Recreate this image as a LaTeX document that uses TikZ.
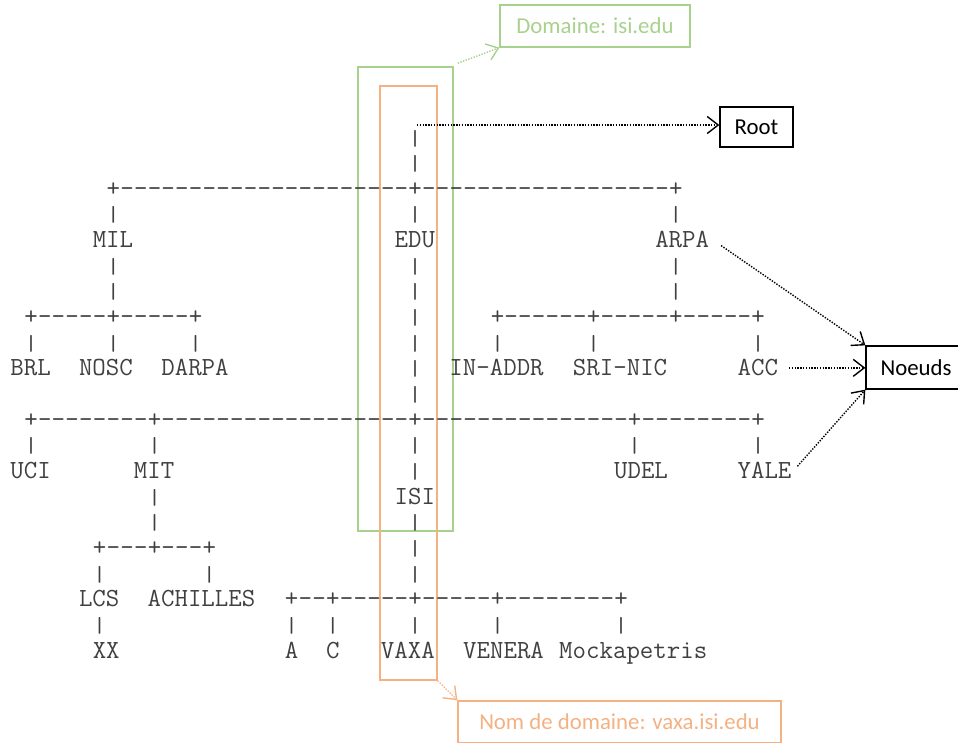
\documentclass[tikz,border=0pt]{standalone}
\usepackage{graphicx}
\usepackage{fontspec}
\setsansfont{Carlito}
\usetikzlibrary{arrows.meta}

\definecolor{asciigray}{RGB}{64,64,64}
\definecolor{isigreen}{RGB}{169,209,142}
\definecolor{vaxaorange}{RGB}{244,177,131}

\tikzset{
  ch/.style   = {font=\fontsize{26.13}{26}\ttfamily, text=asciigray,
                 inner sep=0pt, outer sep=0pt, anchor=base},
  word/.style = {ch, anchor=base west},
  zone/.style = {draw=#1, line width=1.5pt, inner sep=0pt},
  tag/.style  = {draw, line width=1.3pt, inner sep=0pt,
                 font=\fontsize{22.8}{24}\sffamily},
  ptr/.style  = {line width=1.4pt, dash pattern=on 1.4pt off 1.4pt,
                 -{Straight Barb[length=11pt,width=17pt,line width=1.4pt]}}
}

% one row of +----+----+ : row, first plus, next pluses
\newcommand\treeline[3]{%
  \node[ch] (p#1-#2) at (#2,#1) {+};
  \foreach \b [remember=\b as \a (initially #2)] in {#3} {
    \node[ch] (p#1-\b) at (\b,#1) {+};
    \pgfmathtruncatemacro\s{\a+1}
    \pgfmathtruncatemacro\e{\b-1}
    \foreach \c in {\s,...,\e} \node[ch] (d#1-\c) at (\c,#1) {-};
  }}

\begin{document}
\begin{tikzpicture}[x=1pt,y=-1pt]
	\useasboundingbox (0,0) rectangle (958,742);

	% Zones
	\node[zone=isigreen, minimum width=95pt, minimum height=464pt] (zoneisi) at (405.5,299) {};
	\node[zone=vaxaorange, minimum width=57pt, minimum height=594pt] (zonevaxa) at (408.5,383) {};

	% ASCII tree (columns, rows)
	\begin{scope}[shift={(17.3,145)}, x=13.72pt, y=-25.65pt]
		\treeline{2}{7}{29,48}
		\treeline{7}{1}{7,13}
		\treeline{7}{35}{42,48,54}
		\treeline{11}{1}{10,29,45,54}
		\treeline{16}{6}{10,14}
		\treeline{18}{20}{23,29,35,44}

		\foreach \c/\r in {29/0, 29/1,
			7/3, 29/3, 48/3, 7/5, 29/5, 48/5, 7/6, 29/6, 48/6, 29/7,
			1/8, 7/8, 13/8, 29/8, 35/8, 42/8, 54/8, 29/9, 29/10,
			1/12, 10/12, 29/12, 45/12, 54/12, 29/13, 10/14, 10/15, 29/15,
			29/16, 6/17, 14/17, 29/17, 6/19, 20/19, 23/19, 29/19, 35/19, 44/19}
			\node[ch] (v\c-\r) at (\c,\r) {\scalebox{1}[0.83]{|}};

		\foreach \s/\r/\t/\n in {6/4/MIL/mil, 28/4/EDU/edu, 47/4/ARPA/arpa,
			0/9/BRL/brl, 5/9/NOSC/nosc, 11/9/DARPA/darpa,
			32/9/IN-ADDR/inaddr, 41/9/SRI-NIC/srinic, 53/9/ACC/acc,
			0/13/UCI/uci, 9/13/MIT/mit, 44/13/UDEL/udel, 53/13/YALE/yale,
			28/14/ISI/isi, 5/18/LCS/lcs, 10/18/ACHILLES/achilles,
			6/20/XX/xx, 20/20/A/a, 23/20/C/c, 27/20/VAXA/vaxa,
			33/20/VENERA/venera, 40/20/Mockapetris/mockapetris}
			\node[word] (\n) at (\s-0.5,\r) {\t};
	\end{scope}

	% Labels
	\node[tag, draw=isigreen, text=isigreen, minimum width=190pt, minimum height=42pt] (dom) at (595,26) {Domaine: isi.edu};
	\node[tag, minimum width=73pt, minimum height=40pt] (root) at (756.5,127) {Root};
	\node[tag, minimum width=100pt, minimum height=43pt] (noeuds) at (916,367.5) {Noeuds};
	\node[tag, draw=vaxaorange, text=vaxaorange, minimum width=323pt, minimum height=42pt] (nom) at (619.5,722) {Nom de domaine: vaxa.isi.edu};

	% Pointers
	\coordinate (rootpt) at (417,125);
	\draw[ptr] (rootpt) -- (rootpt -| root.west);
	\draw[ptr, isigreen] ([shift={(4,-3)}]zoneisi.north east) -- (dom.south west);
	\draw[ptr] ([shift={(12,6)}]arpa.east) -- (noeuds.north west);
	\draw[ptr] ([xshift=11pt]acc.east) -- (acc.east -| noeuds.west);
	\draw[ptr] ([shift={(6,-4)}]yale.east) -- (noeuds.south west);
	\draw[ptr, vaxaorange] (zonevaxa.south east) -- (nom.north west);
\end{tikzpicture}
\end{document}
